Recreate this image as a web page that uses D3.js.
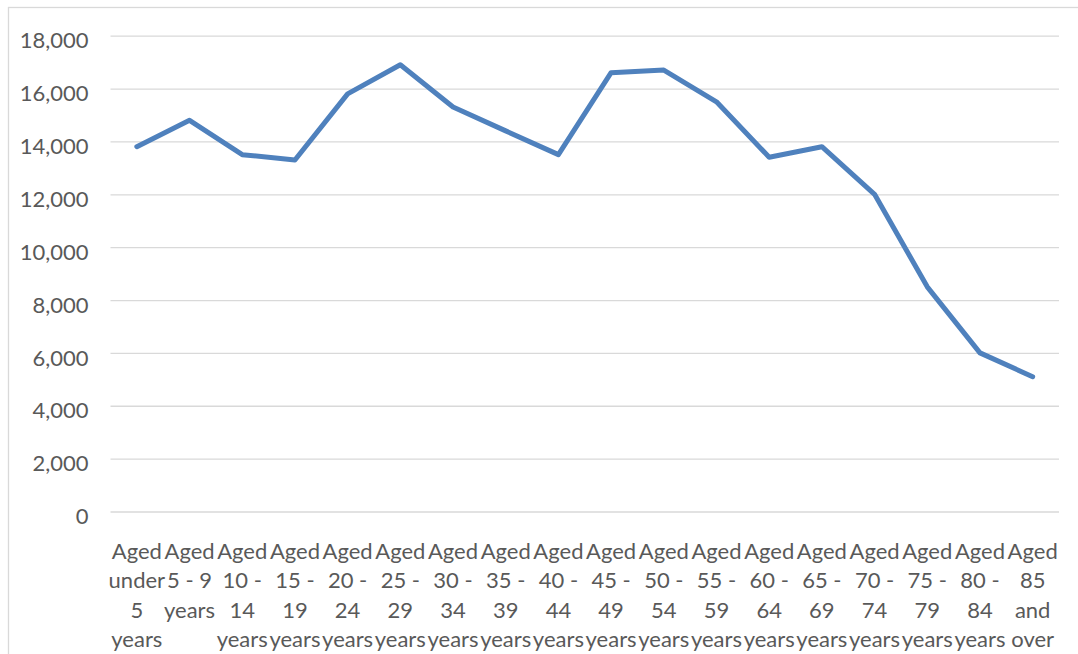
<!DOCTYPE html>
<html>
<head>
<meta charset="utf-8">
<script src="https://cdn.jsdelivr.net/npm/d3@7"></script>
<style>
  body { margin: 0; background: #fff; }
  text { font-family: Lato, "Open Sans", sans-serif; fill: #595959; }
</style>
</head>
<body>
<div id="chart"></div>
<script>
// Age groups and population counts
const categories = [
  "Aged under 5 years", "Aged 5 - 9 years", "Aged 10 - 14 years", "Aged 15 - 19 years",
  "Aged 20 - 24 years", "Aged 25 - 29 years", "Aged 30 - 34 years", "Aged 35 - 39 years",
  "Aged 40 - 44 years", "Aged 45 - 49 years", "Aged 50 - 54 years", "Aged 55 - 59 years",
  "Aged 60 - 64 years", "Aged 65 - 69 years", "Aged 70 - 74 years", "Aged 75 - 79 years",
  "Aged 80 - 84 years", "Aged 85 and over"
];
const values = [13800, 14800, 13500, 13300, 15800, 16900, 15300, 14400, 13500,
                16600, 16700, 15500, 13400, 13800, 12000, 8500, 6000, 5100];
const yTicks = [0, 2000, 4000, 6000, 8000, 10000, 12000, 14000, 16000, 18000];

const W = 1078, H = 654;
const plot = {left: 110.5, right: 1059, top: 35.7, bottom: 511.5};

const svg = d3.select("#chart").append("svg")
    .attr("width", W)
    .attr("height", H);

// Chart area border
svg.append("rect")
    .attr("x", 8.5).attr("y", 7.5)
    .attr("width", W + 20).attr("height", H + 20)
    .attr("fill", "none")
    .attr("stroke", "#d9d9d9")
    .attr("stroke-width", 1.3);

const x = d3.scaleBand()
    .domain(categories)
    .range([plot.left, plot.right]);

const y = d3.scaleLinear()
    .domain([0, 18000])
    .range([plot.bottom, plot.top]);

// Y axis with gridlines
const yAxis = svg.append("g")
    .attr("transform", `translate(${plot.left},0)`)
    .call(d3.axisLeft(y)
        .tickValues(yTicks)
        .tickSize(-(plot.right - plot.left))
        .tickPadding(22)
        .tickFormat(d3.format(",")));

yAxis.select(".domain").remove();
yAxis.selectAll("line")
    .attr("stroke", "#d9d9d9")
    .attr("stroke-width", 1.3);
yAxis.selectAll("text")
    .attr("dy", "0.55em")
    .style("font-size", "22px")
    .style("font-family", "Lato, sans-serif")
    .attr("fill", "#595959");

// X axis labels, wrapped word by word to the band width
const xAxis = svg.append("g")
    .attr("transform", `translate(0,${plot.bottom})`)
    .call(d3.axisBottom(x).tickSize(0).tickPadding(0));

xAxis.select(".domain").remove();
xAxis.selectAll("text").each(function(d) {
    const t = d3.select(this);
    const words = d.split(" ");
    t.text(null)
      .attr("y", 0)
      .attr("dy", null)
      .style("font-size", "22px")
      .style("font-family", "Lato, sans-serif")
      .attr("fill", "#595959");
    const lines = [];
    let cur = [];
    const probe = t.append("tspan");
    words.forEach(w => {
        const test = cur.concat([w]).join(" ");
        probe.text(test);
        if (cur.length && probe.node().getComputedTextLength() > x.bandwidth()) {
            lines.push(cur.join(" "));
            cur = [w];
        } else {
            cur.push(w);
        }
    });
    if (cur.length) lines.push(cur.join(" "));
    probe.remove();
    lines.forEach((l, i) => {
        t.append("tspan")
          .attr("x", 0)
          .attr("y", 47 + i * 29.5)
          .text(l);
    });
});

// Data line
const line = d3.line()
    .x((d, i) => x(categories[i]) + x.bandwidth() / 2)
    .y(d => y(d));

svg.append("path")
    .datum(values)
    .attr("fill", "none")
    .attr("stroke", "#4f81bd")
    .attr("stroke-width", 5)
    .attr("stroke-linejoin", "round")
    .attr("stroke-linecap", "round")
    .attr("d", line);
</script>
</body>
</html>
